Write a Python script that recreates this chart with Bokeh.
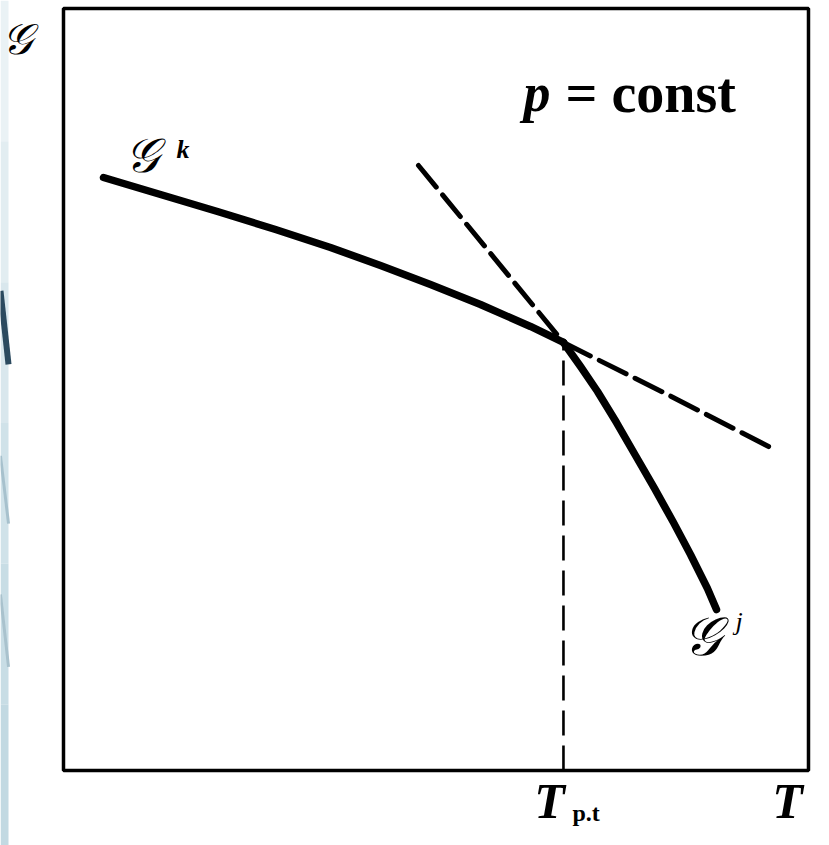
from bokeh.plotting import figure
from bokeh.models import Range1d
from bokeh.core.properties import value
from bokeh.embed import file_html
from bokeh.resources import INLINE

# Gibbs energy of two phases k and j against temperature at constant pressure.
# Units are arbitrary: the frame spans 0..10 on both axes.
gk_T = [0.537, 1.302, 2.067, 2.846, 3.584, 4.255, 4.926, 5.597, 6.268, 6.711]
gk_G = [7.782, 7.559, 7.336, 7.100, 6.864, 6.627, 6.378, 6.115, 5.827, 5.617]
gk_ext_T = [6.711, 8.081, 9.490]
gk_ext_G = [5.617, 4.948, 4.239]

gj_T = [6.711, 6.940, 7.168, 7.423, 7.678, 7.933, 8.188, 8.416, 8.644, 8.765]
gj_G = [5.617, 5.302, 4.974, 4.567, 4.134, 3.701, 3.255, 2.835, 2.388, 2.113]
gj_ext_T = [4.765, 6.711]
gj_ext_G = [7.940, 5.617]

T_pt = 6.711          # phase transition temperature
G_pt = 5.617
T_max = 10.0
G_max = 10.0

# decorative slide strip at the left edge
strip_colors = ["#eaf2f5", "#e2edf1", "#d9e7ed", "#d0e2e9", "#c8dde5", "#c2d9e2"]
strip_strokes_T = [[-0.846, -0.738], [-0.846, -0.738], [-0.846, -0.738]]
strip_strokes_G = [[6.295, 5.330], [4.130, 3.240], [2.310, 1.360]]
strip_stroke_colors = ["#2b4a5f", "#a7c1cd", "#a9c2cd"]
strip_stroke_widths = [6, 3, 3]

SERIF = "Liberation Serif"
SCRIPT = "DejaVu Serif"

X0, X1 = -0.8456, 10.282
Y0, Y1 = -0.984, 10.105

p = figure(width=829, height=845, output_backend="svg", toolbar_location=None,
           x_range=Range1d(X0, X1), y_range=Range1d(Y0, Y1),
           x_axis_location=None, y_axis_location=None, min_border=0,
           outline_line_color=None, background_fill_color="white",
           border_fill_color="white")
p.grid.visible = False

# left strip
n = len(strip_colors)
span = Y1 - Y0
for i, c in enumerate(strip_colors):
    top = Y1 - i * span / n
    p.quad(left=X0, right=-0.738, top=top, bottom=top - span / n,
           fill_color=c, line_color=None)
for xs, ys, c, w in zip(strip_strokes_T, strip_strokes_G, strip_stroke_colors,
                        strip_stroke_widths):
    p.line(xs, ys, line_color=c, line_width=w)

# frame of the diagram
p.quad(left=0, right=T_max, bottom=0, top=G_max, fill_color=None,
       line_color="black", line_width=3.5)

# vertical marker at the transition temperature
p.line([T_pt, T_pt], [0, G_pt], line_color="black", line_width=2.6,
       line_dash="25 10")

# metastable extensions
p.line(gk_ext_T, gk_ext_G, line_color="black", line_width=5, line_dash="30 10",
       line_cap="round")
p.line(gj_ext_T, gj_ext_G, line_color="black", line_width=5, line_dash="28 10",
       line_cap="round")

# stable branches
p.line(gk_T, gk_G, line_color="black", line_width=7.5, line_cap="round",
       line_join="round")
p.line(gj_T, gj_G, line_color="black", line_width=7.5, line_cap="round",
       line_join="round")

# texts
def txt(x, y, s, font, size, style="normal", align="left"):
    p.text(x=[x], y=[y], text=[s], text_font=value(font), text_font_size=size,
           text_font_style=style, text_align=align, text_baseline="alphabetic",
           text_color="black")

txt(-0.82, 9.60, "𝒢", SCRIPT, "43px", "italic")
txt(0.832, 8.071, "𝒢", SCRIPT, "48px", "italic")
txt(1.517, 8.155, "k", SERIF, "26px", "bold italic")
txt(8.322, 1.764, "𝒢", SCRIPT, "54px", "italic")
txt(9.02, 1.961, "j", SERIF, "26px", "italic")

txt(6.174, 8.885, "p", SERIF, "54px", "bold italic")
txt(6.738, 8.885, "= const", SERIF, "56px", "bold")

txt(6.523, -0.394, "T", SERIF, "50px", "bold italic", "center")
txt(6.832, -0.564, "p.t", SERIF, "24px", "bold")
txt(9.718, -0.394, "T", SERIF, "50px", "bold italic", "center")

open("out.html", "w").write(file_html(p, INLINE))
